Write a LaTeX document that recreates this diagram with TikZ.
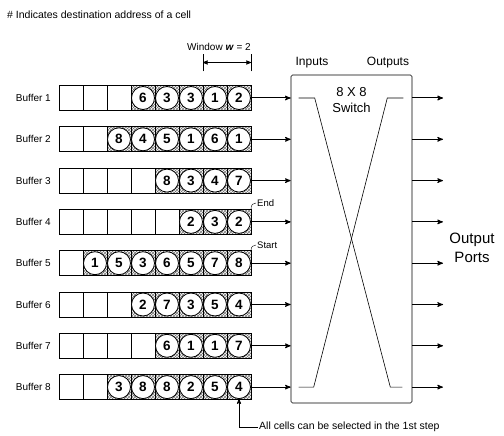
\documentclass[tikz,border=0pt]{standalone}
\usepackage{fontspec}
\setmainfont{Liberation Sans}
\usetikzlibrary{positioning}
\usetikzlibrary{arrows,patterns}
\tikzset{
	>=stealth',
	cell/.style={
		rectangle,
		draw=black, thick,
		minimum width=24pt,
		minimum height=25pt,
		inner sep=0pt, outer sep=0pt},
	fullcell/.style={cell, pattern=crosshatch, pattern color=black!55},
	addr/.style={
		circle,
		draw=black, thick,
		fill=white,
		minimum size=23pt,
		inner sep=0pt,
		font=\fontsize{13.5}{13.5}\selectfont\bfseries},
	buflabel/.style={font=\fontsize{10}{12}\selectfont, inner sep=0pt},
	smalllabel/.style={font=\fontsize{9.5}{11}\selectfont, inner sep=1pt},
	iolabel/.style={font=\fontsize{12}{14}\selectfont},
	switchbox/.style={
		rectangle,
		draw=black, semithick,
		rounded corners=1.5pt,
		minimum width=121pt,
		minimum height=328pt},
	line/.style={draw, line width=1pt, ->},
}
\begin{document}
\begin{tikzpicture}[x=1pt, y=-1pt]
	\useasboundingbox (0,0) rectangle (504,436);
	\node[switchbox] (sw) at (351.5,239) {};
	% buffers: row / empty cells / addresses
	\foreach \r/\ne/\vals in {1/3/{6,3,3,1,2}, 2/2/{8,4,5,1,6,1}, 3/4/{8,3,4,7}, 4/5/{2,3,2},
		5/1/{1,5,3,6,5,7,8}, 6/3/{2,7,3,5,4}, 7/4/{6,1,1,7}, 8/2/{3,8,8,2,5,4}} {
		\pgfmathsetmacro\yy{98+41.3*(\r-1)}
		\foreach \k in {1,...,\ne}
			\node[cell] (c\r-\k) at ({47+24*\k},\yy) {};
		\foreach \v [count=\i] in \vals {
			\pgfmathtruncatemacro\k{\ne+\i}
			\node[fullcell] (c\r-\k) at ({47+24*\k},\yy) {};
			\node[addr] (a\r-\k) at (c\r-\k) {\v};
		}
		\node[buflabel, left=8pt of c\r-1] (b\r) {Buffer \r};
		\coordinate (in\r) at (sw.west |- c\r-8);
		\coordinate (out\r) at (sw.east |- c\r-8);
		\coordinate (port\r) at (443,\yy);
		\path[line] (c\r-8.east) -- (in\r);
		\path[line] (out\r) -- (port\r);
	}
	\node[anchor=west, buflabel, font=\fontsize{10.5}{12}\selectfont] (title) at (7,15) {\# Indicates destination address of a cell};
	\node[iolabel] (inputs) at (312,63) {Inputs};
	\node[iolabel] (outputs) at (388,63) {Outputs};
	\node[iolabel, align=center, font=\fontsize{13}{16}\selectfont] (swname) at (351.5,100) {8 X 8\\Switch};
	\node[align=center, font=\fontsize{15}{19}\selectfont] (ports) at (472,248) {Output\\Ports};
	\draw[semithick] ([xshift=8pt]in1) -- ([xshift=24pt]in1) -- ([xshift=-22pt]out8) -- ([xshift=-10pt]out8);
	\draw[semithick] ([xshift=8pt]in8) -- ([xshift=23pt]in8) -- ([xshift=-25pt]out1) -- ([xshift=-9pt]out1);
	% window
	\draw[thick] ([yshift=14pt]c1-7.north west) -- ([yshift=31pt]c1-7.north west);
	\draw[thick] ([yshift=14pt]c1-8.north east) -- ([yshift=31pt]c1-8.north east);
	\draw[<->, thick] ([yshift=23pt]c1-7.north west) -- ([yshift=23pt]c1-8.north east);
	\node[buflabel] (window) at (219,47) {Window \textbf{\textit{w}} = 2};
	% end / start
	\node[smalllabel, anchor=west] (endlbl) at (256,203) {End};
	\draw (c4-8.north east) .. controls +(0,-5) and +(-3,0) .. (endlbl.west);
	\node[smalllabel, anchor=west] (startlbl) at (256,245) {Start};
	\draw (c5-8.north east) .. controls +(0,-4) and +(-3,0) .. (startlbl.west);
	\node[smalllabel, anchor=west, font=\fontsize{10.5}{12}\selectfont] (selnote) at (258,427) {All cells can be selected in the 1st step};
	\draw[->, thick] (selnote.west) -| (a8-8.south);
\end{tikzpicture}
\end{document}
